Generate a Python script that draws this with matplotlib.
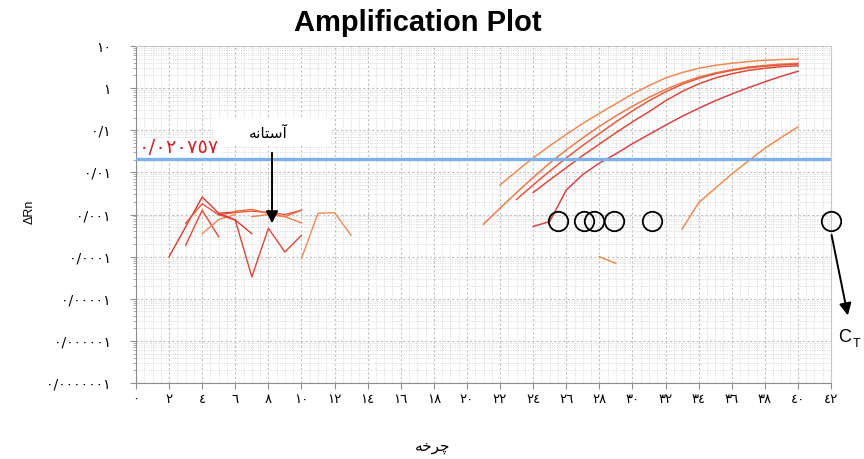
import matplotlib
matplotlib.use('Agg')
import matplotlib.pyplot as plt
from matplotlib.ticker import FixedLocator, MultipleLocator, LogLocator, NullFormatter
from matplotlib.patches import Rectangle
import numpy as np

# amplification curves (cycle, delta Rn)
cyc_a = np.arange(22, 41)
rn_a = [0.0050, 0.0107, 0.0219, 0.0427, 0.0794, 0.145, 0.251, 0.427, 0.724, 1.15,
        1.74, 2.34, 2.95, 3.47, 3.89, 4.27, 4.57, 4.79, 4.90]
cyc_b = np.arange(21, 41)
rn_b = [0.00059, 0.00141, 0.00331, 0.00759, 0.0166, 0.0339, 0.0661, 0.123, 0.219, 0.372,
        0.603, 0.933, 1.35, 1.82, 2.29, 2.75, 3.16, 3.47, 3.72, 3.89]
cyc_c = np.arange(23, 41)
rn_c = [0.00229, 0.00501, 0.0107, 0.0219, 0.0437, 0.0832, 0.158, 0.288, 0.501, 0.813,
        1.23, 1.70, 2.19, 2.63, 3.02, 3.31, 3.55, 3.72]
cyc_d = np.arange(24, 41)
rn_d = [0.00331, 0.00661, 0.0129, 0.0251, 0.0468, 0.0871, 0.158, 0.275, 0.501, 0.832,
        1.26, 1.74, 2.19, 2.63, 2.95, 3.24, 3.39]
cyc_e = np.arange(24, 41)
rn_e = [0.00052, 0.00068, 0.0038, 0.0089, 0.0166, 0.0275, 0.0479, 0.0794, 0.132, 0.214,
        0.331, 0.501, 0.724, 1.02, 1.41, 1.91, 2.51]
cyc_f = np.arange(33, 41)
rn_f = [0.00045, 0.0019, 0.0042, 0.0091, 0.0186, 0.0372, 0.0676, 0.120]
cyc_g = [28, 29]
rn_g = [0.00010, 0.000069]

# background noise (cycles 2-13)
noise = [
    ([2, 3, 4, 5, 6], [1.0e-4, 5.1e-4, 2.6e-3, 1.07e-3, 1.15e-3], '#dc3c32'),
    ([3, 4, 5], [1.86e-4, 1.26e-3, 2.95e-4], '#e24a37'),
    ([3, 4, 5, 6, 7, 8, 9, 10], [6.2e-4, 1.8e-3, 9.8e-4, 1.12e-3, 1.2e-3, 1.12e-3, 1.0e-3, 1.26e-3], '#e6583c'),
    ([4, 5, 6], [3.5e-4, 7.6e-4, 1.0e-3], '#ef8a55'),
    ([5, 6, 7, 8, 9, 10], [1.07e-3, 7.4e-4, 3.3e-5, 4.7e-4, 1.29e-4, 3.2e-4], '#e0463a'),
    ([5, 6, 7], [1.0e-3, 7.4e-4, 3.5e-4], '#dc3c32'),
    ([6, 7, 8, 9, 10], [1.2e-3, 1.32e-3, 1.07e-3, 8.9e-4, 1.26e-3], '#e66a45'),
    ([7, 8, 9, 10], [8.9e-4, 1.0e-3, 8.9e-4, 6.3e-4], '#ec8050'),
    ([10, 11, 12, 13], [9.1e-5, 1.07e-3, 1.1e-3, 3.2e-4], '#ee8a55'),
]

ct_cycles = [25.5, 27.1, 27.7, 28.9, 31.2, 42.0]
ct_level = 0.00070
threshold = 0.020757

x_ticks = list(range(0, 43, 2))
x_labels = ['٠', '٢', '٤', '٦', '٨', '١٠', '١٢', '١٤', '١٦', '١٨', '٢٠', '٢٢',
            '٢٤', '٢٦', '٢٨', '٣٠', '٣٢', '٣٤', '٣٦', '٣٨', '٤٠', '٤٢']
y_ticks = [10, 1, 0.1, 0.01, 0.001, 1e-4, 1e-5, 1e-6, 1e-7]
y_labels = ['١٠', '١', '٠/١', '٠/٠١', '٠/٠٠١', '٠/٠٠٠١', '٠/٠٠٠٠١', '٠/٠٠٠٠٠١', '٠/٠٠٠٠٠٠١']

# shaped + visually ordered persian words
word_cycle = '\uFEEA\uFEA7\uFEAE\uFB7C'               # چرخه
word_threshold = '\uFEEA\uFEE7\uFE8E\uFE98\uFEB3\uFE81'  # آستانه

fig = plt.figure(figsize=(8.64, 4.59), dpi=100)
ax = fig.add_axes([136/864, 76/459, 695/864, 337/459])
ax.set_yscale('log')
ax.set_xlim(0, 42)
ax.set_ylim(1e-7, 10)

ax.xaxis.set_major_locator(FixedLocator(x_ticks))
ax.xaxis.set_minor_locator(MultipleLocator(0.5))
ax.set_xticklabels(x_labels, fontsize=9.5, family='DejaVu Sans')
ax.yaxis.set_major_locator(FixedLocator(y_ticks))
ax.yaxis.set_minor_locator(LogLocator(base=10, subs=np.arange(2, 10), numticks=50))
ax.yaxis.set_minor_formatter(NullFormatter())
ax.set_yticklabels(y_labels, fontsize=10, family='DejaVu Sans')

ax.grid(which='major', color='#c0c0c0', linestyle=(0, (2, 2)), linewidth=0.8)
ax.grid(which='minor', color='#d6d6d6', linestyle=(0, (1, 1.5)), linewidth=0.7)
ax.set_axisbelow(True)
ax.tick_params(which='major', length=4, color='#909090', pad=3)
ax.tick_params(axis='y', which='major', pad=14)
ax.tick_params(axis='x', which='minor', length=0)
ax.tick_params(axis='y', which='minor', length=2, color='#a0a0a0')
for s in ['left', 'bottom']:
    ax.spines[s].set_color('#8c8c8c')
for s in ['top', 'right']:
    ax.spines[s].set_color('#c8c8c8')

# white patch behind the threshold word
ax.add_patch(Rectangle((4.66, 10**-1.375), 7.07, 10**-0.71 - 10**-1.375,
                       facecolor='white', edgecolor='none', zorder=1.5))

for cx, cy, col in noise:
    ax.plot(cx, cy, color=col, lw=1.0, zorder=2)

ax.plot(cyc_a, rn_a, color='#ee8a55', lw=1.1, zorder=2)
ax.plot(cyc_b, rn_b, color='#ec7a4c', lw=1.1, zorder=2)
ax.plot(cyc_c, rn_c, color='#e4593f', lw=1.1, zorder=2)
ax.plot(cyc_d, rn_d, color='#dc4a3c', lw=1.1, zorder=2)
ax.plot(cyc_e, rn_e, color='#d6444a', lw=1.1, zorder=2)
ax.plot(cyc_f, rn_f, color='#ef8c50', lw=1.1, zorder=2)
ax.plot(cyc_g, rn_g, color='#ef8c50', lw=1.1, zorder=2)

ax.axhline(threshold, color='#7eb0ea', lw=2.4, zorder=3)

ax.plot(ct_cycles, [ct_level] * len(ct_cycles), 'o', mfc='none', mec='black',
        mew=1.3, ms=14, zorder=4, clip_on=False)

ax.text(0.15, 0.038, '٠/٠٢٠٧٥٧', color='#c8282d', fontsize=14, family='DejaVu Sans',
        va='center', ha='left', zorder=2.5,
        bbox=dict(facecolor='white', edgecolor='none', pad=0.5))
ax.text(8.0, 0.085, word_threshold, fontsize=11, family='DejaVu Sans',
        ha='center', va='center', zorder=3.5)
ax.annotate('', xy=(8.22, 5.3e-4), xytext=(8.22, 0.034),
            arrowprops=dict(arrowstyle='-|>', color='black', lw=1.4, mutation_scale=18),
            zorder=5)
ax.annotate('', xy=(43.05, 10**-5.46), xytext=(42.0, 10**-3.42),
            arrowprops=dict(arrowstyle='-|>', color='black', lw=1.4, mutation_scale=18),
            annotation_clip=False, zorder=5)

fig.text(838/864, 1 - 338/459, 'C', fontsize=13, family='Liberation Sans', va='center', ha='left')
fig.text(853/864, 1 - 344/459, 'T', fontsize=9, family='Liberation Sans', va='center', ha='left')

fig.text(418/864, 1 - 23/459, 'Amplification Plot', fontsize=21, fontweight='bold',
         family='Liberation Sans', ha='center', va='center')
fig.text(30/864, 1 - 212/459, 'ΔRn', fontsize=9, family='Liberation Sans',
         rotation=90, ha='center', va='center')
fig.text(433/864, 1 - 447/459, word_cycle, fontsize=11, family='DejaVu Sans',
         ha='center', va='center')

fig.savefig('out.png', dpi=100)
